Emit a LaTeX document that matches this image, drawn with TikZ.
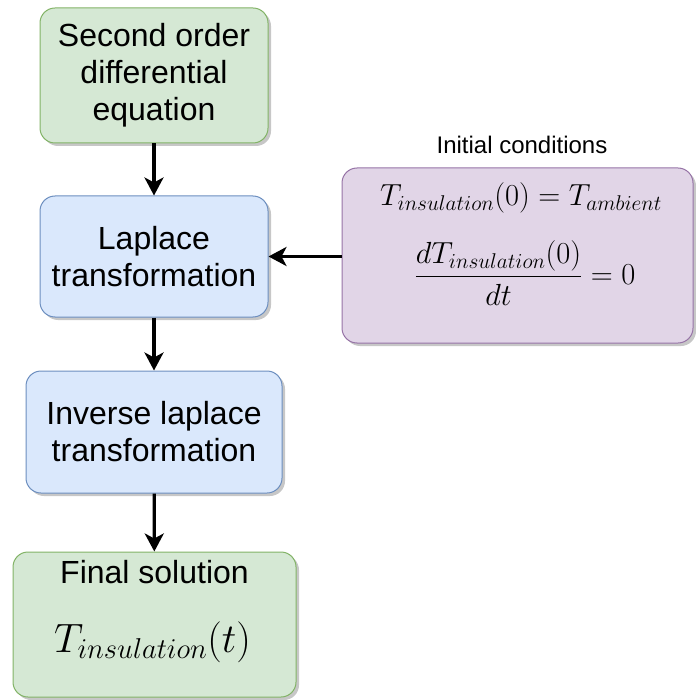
\RequirePackage{fix-cm}
\documentclass[tikz,border=0pt]{standalone}
\usepackage{fontspec}
\setmainfont{Liberation Sans}
\usetikzlibrary{arrows.meta,shadows}
\definecolor{gfill}{HTML}{D5E8D4}
\definecolor{gline}{HTML}{82B366}
\definecolor{bfill}{HTML}{DAE8FC}
\definecolor{bline}{HTML}{6C8EBF}
\definecolor{pfill}{HTML}{E1D5E7}
\definecolor{pline}{HTML}{9673A6}
\begin{document}
\begin{tikzpicture}[x=1pt,y=-1pt,
  box/.style={rectangle, rounded corners=15pt, line width=1pt, align=center,
    inner sep=0pt,
    drop shadow={shadow xshift=3pt,shadow yshift=-3pt,fill=black,opacity=0.22},
    font=\fontsize{32}{37}\selectfont},
  greenbox/.style={box, fill=gfill, draw=gline},
  bluebox/.style={box, fill=bfill, draw=bline},
  purplebox/.style={box, fill=pfill, draw=pline},
  arr/.style={line width=3.2pt, -{Stealth[length=18pt,width=19pt,inset=5pt]}},
  lbl/.style={inner sep=0pt, align=center}]
\useasboundingbox (0,0) rectangle (695,700);
\node[greenbox, minimum width=228pt, minimum height=135pt] (b1) at (154,75.5)
  {Second order\\differential\\equation};
\node[bluebox, minimum width=228pt, minimum height=121pt] (b2) at (154,256.5)
  {Laplace\\transformation};
\node[bluebox, minimum width=256pt, minimum height=122pt] (b3) at (154,432)
  {Inverse laplace\\transformation};
\node[greenbox, minimum width=283pt, minimum height=145pt] (b4) at (154.5,624.5) {};
\node[lbl, font=\fontsize{32}{37}\selectfont] (t4a) at (154.5,572) {Final solution};
\node[lbl, font=\fontsize{41}{48}\selectfont] (t4b) at (152.5,642) {$T_{insulation}(t)$};
\node[purplebox, minimum width=351pt, minimum height=175pt] (ic) at (517.5,255.5) {};
\node[lbl, font=\fontsize{24}{29}\selectfont] (icl) at (522,145) {Initial conditions};
\node[lbl, font=\fontsize{30.5}{36}\selectfont] (e1) at (521,198) {$T_{insulation}(0)=T_{ambient}$};
\node[lbl, font=\fontsize{30.5}{36}\selectfont] (e2) at (525,273) {$\displaystyle\frac{dT_{insulation}(0)}{dt}=0$};
\draw[arr] (b1) -- (b2);
\draw[arr] (b2) -- (b3);
\draw[arr] (b3) -- (b4);
\draw[arr] (ic.west |- b2.east) -- (b2.east);
\end{tikzpicture}
\end{document}
